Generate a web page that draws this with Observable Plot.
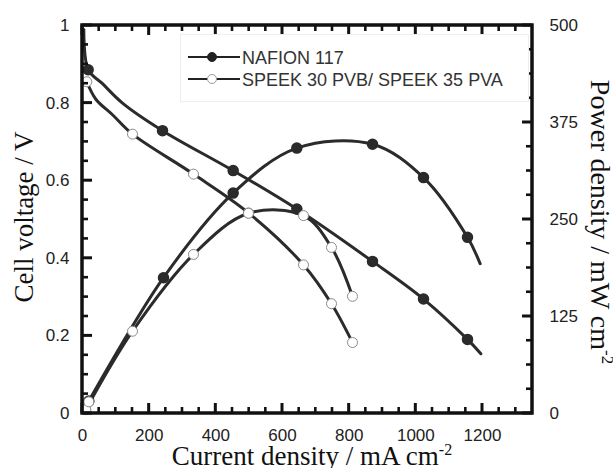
<!DOCTYPE html>
<html><head><meta charset="utf-8">
<script src="https://cdn.jsdelivr.net/npm/d3@7"></script>
<script src="https://cdn.jsdelivr.net/npm/@observablehq/plot@0.6"></script>
<style>body{margin:0;background:#fff}#chart{width:613px;height:468px}</style>
</head><body><div id="chart"></div>
<script>
// ---- data ----
const seriesNames = ["NAFION 117", "SPEEK 30 PVB/ SPEEK 35 PVA"];
// NAFION 117 markers
const nafionI  = [17, 240, 452, 643, 870, 1023, 1155];
const nafionV  = [0.886, 0.729, 0.626, 0.527, 0.392, 0.295, 0.191];
const nafionPI = [19, 243, 452, 643, 870, 1023, 1155];
const nafionP  = [16, 175, 284, 342, 347, 304, 227];
// NAFION 117 fitted curves (traced, including their ends)
const nafionVcurveI = [4, 17, 60, 120, 240, 452, 643, 870, 1023, 1155, 1195];
const nafionVcurve  = [0.99, 0.886, 0.85, 0.80, 0.729, 0.626, 0.527, 0.392, 0.295, 0.191, 0.154];
const nafionPcurveI = [19, 243, 452, 643, 870, 1023, 1155, 1193];
const nafionPcurve  = [16, 175, 284, 342, 347, 304, 227, 193];
// SPEEK blend markers
const speekI  = [13, 150, 333, 498, 663, 747, 810];
const speekV  = [0.855, 0.72, 0.617, 0.517, 0.383, 0.283, 0.183];
const speekPI = [10, 150, 333, 498, 663, 747, 810];
const speekP  = [5, 106, 205, 258, 255, 214, 151];
const speekPextraI = [19];
const speekPextra  = [15];
// SPEEK fitted curves
const speekVcurveI = [13, 40, 90, 150, 333, 498, 663, 747, 810];
const speekVcurve  = [0.855, 0.81, 0.77, 0.72, 0.617, 0.517, 0.383, 0.283, 0.183];
const speekPcurveI = speekPI;
const speekPcurve  = speekP;
// axes
const xTickLabels = [0, 200, 400, 600, 800, 1000, 1200];
const yTickLabels = [0, 0.2, 0.4, 0.6, 0.8, 1];
const pTickLabels = [0, 125, 250, 375, 500];
const X_MAX = 1350, P_MAX = 500;

const W = 613, H = 468, ML = 82, MR = 81, MT = 25, MB = 55;
const mk = (xs, ys) => xs.map((x, i) => ({x, y: ys[i]}));
const ink = "#2b2b2b";
const lineOpt = {stroke: ink, strokeWidth: 3, curve: "catmull-rom"};
const openDot = {r: 5, fill: "#fff", stroke: "#8a8a8a", strokeWidth: 1};

const plot = Plot.plot({
  width: W, height: H,
  marginLeft: ML, marginRight: MR, marginTop: MT, marginBottom: MB,
  x: {domain: [0, X_MAX]},
  y: {domain: [0, 1]},
  style: {background: "#fff", fontFamily: "'Liberation Sans', Arial, sans-serif"},
  marks: [
    Plot.line(mk(nafionVcurveI, nafionVcurve), {x: "x", y: "y", ...lineOpt}),
    Plot.line(mk(nafionPcurveI, nafionPcurve), {x: "x", y: d => d.y / P_MAX, ...lineOpt}),
    Plot.line(mk(speekVcurveI, speekVcurve), {x: "x", y: "y", ...lineOpt}),
    Plot.line(mk(speekPcurveI, speekPcurve), {x: "x", y: d => d.y / P_MAX, ...lineOpt}),
    Plot.dot(mk(nafionI, nafionV), {x: "x", y: "y", r: 5, fill: ink, stroke: ink}),
    Plot.dot(mk(nafionPI, nafionP), {x: "x", y: d => d.y / P_MAX, r: 5, fill: ink, stroke: ink}),
    Plot.dot(mk(speekI, speekV), {x: "x", y: "y", ...openDot}),
    Plot.dot(mk(speekPI, speekP), {x: "x", y: d => d.y / P_MAX, ...openDot}),
    Plot.dot(mk(speekPextraI, speekPextra), {x: "x", y: d => d.y / P_MAX, ...openDot}),
    Plot.axisX({ticks: xTickLabels, tickFormat: d3.format("d"), tickSize: 0, tickPadding: 15, fontSize: 17, fill: "#222", label: null}),
    Plot.axisY({anchor: "left", ticks: yTickLabels, tickFormat: d3.format("~g"), tickSize: 0, tickPadding: 13, fontSize: 17, fill: "#222", label: null}),
    Plot.axisY({anchor: "right", ticks: pTickLabels.map(p => p / P_MAX), tickFormat: d => String(Math.round(d * P_MAX)), tickSize: 0, tickPadding: 17, fontSize: 17, fill: "#222", label: null})
  ]
});
document.getElementById("chart").appendChild(plot);

const svg = d3.select(plot);
// positions from Plot's own scales
const sx = plot.scale("x"), sy = plot.scale("y");
const X = d3.scaleLinear(sx.domain, sx.range);
const Y = d3.scaleLinear(sy.domain, sy.range);
const [x0, x1] = sx.range, [yb, yt0] = sy.range;

// inward ticks on all four sides + heavy frame
const xMinor = d3.range(50, X_MAX, 50).filter(v => v % 200);
const yMinor = d3.range(0.05, 1, 0.05).filter(v => Math.abs(v / 0.2 - Math.round(v / 0.2)) > 1e-6);
const pMinor = d3.range(31.25, P_MAX, 31.25).filter(v => v % 125);
const tg = svg.append("g");
const seg = (ax, ay, bx, by, sw) => tg.append("path")
  .attr("d", `M${ax},${ay}L${bx},${by}`).attr("fill", "none").attr("stroke", "#111").attr("stroke-width", sw);
const addX = (vals, len, sw) => vals.forEach(v => {
  const px = X(v);
  seg(px, yb, px, yb - len, sw);
  seg(px, yt0, px, yt0 + len, sw);
});
const addY = (vals, len, sw, right) => vals.forEach(v => {
  const py = Y(v);
  if (right) seg(x1, py, x1 - len, py, sw); else seg(x0, py, x0 + len, py, sw);
});
addX(xTickLabels, 10, 3); addX(xMinor, 6, 2.6);
addY(yTickLabels, 10, 3, false); addY(yMinor, 6, 2.6, false);
addY(pTickLabels.map(p => p / P_MAX), 10, 3, true); addY(pMinor.map(p => p / P_MAX), 6, 2.6, true);
tg.append("rect").attr("x", x0).attr("y", yt0).attr("width", x1 - x0).attr("height", yb - yt0)
  .attr("fill", "none").attr("stroke", "#111").attr("stroke-width", 3.5);

const serif = "'Liberation Serif', 'Times New Roman', serif";
// axis titles
svg.append("text").attr("transform", "translate(33,217) rotate(-90)")
  .attr("text-anchor", "middle").attr("font-family", serif).attr("font-size", 27).attr("fill", "#111")
  .text("Cell voltage / V");
const xt = svg.append("text").attr("x", 312).attr("y", 465)
  .attr("text-anchor", "middle").attr("font-family", serif).attr("font-size", 27).attr("fill", "#111");
xt.append("tspan").text("Current density / mA cm");
xt.append("tspan").attr("font-size", 16).attr("dy", -10).text("-2");
const yt = svg.append("text").attr("transform", "translate(591,222) rotate(90)")
  .attr("text-anchor", "middle").attr("font-family", serif).attr("font-size", 28).attr("fill", "#111");
yt.append("tspan").text("Power density / mW cm");
yt.append("tspan").attr("font-size", 17).attr("dy", -11).text("-2");

// legend
const lg = svg.append("g").attr("text-anchor", "start");
lg.append("rect").attr("x", 180.5).attr("y", 34.5).attr("width", 348).attr("height", 67)
  .attr("fill", "#fff").attr("stroke", "#eeeeee");
const rows = [57, 79];
seriesNames.forEach((name, i) => {
  const yy = rows[i];
  lg.append("line").attr("x1", 188).attr("x2", 240).attr("y1", yy).attr("y2", yy)
    .attr("stroke", "#222").attr("stroke-width", 2);
  lg.append("circle").attr("cx", 212).attr("cy", yy).attr("r", 4.5)
    .attr("fill", i === 0 ? "#222" : "#fff").attr("stroke", i === 0 ? "#222" : "#999").attr("stroke-width", 1);
  lg.append("text").attr("x", 242).attr("y", yy + 6.5).attr("text-anchor", "start")
    .attr("font-family", "'Liberation Sans', Arial, sans-serif").attr("font-size", 18).attr("fill", "#333")
    .text(name);
});
</script>
</body></html>
